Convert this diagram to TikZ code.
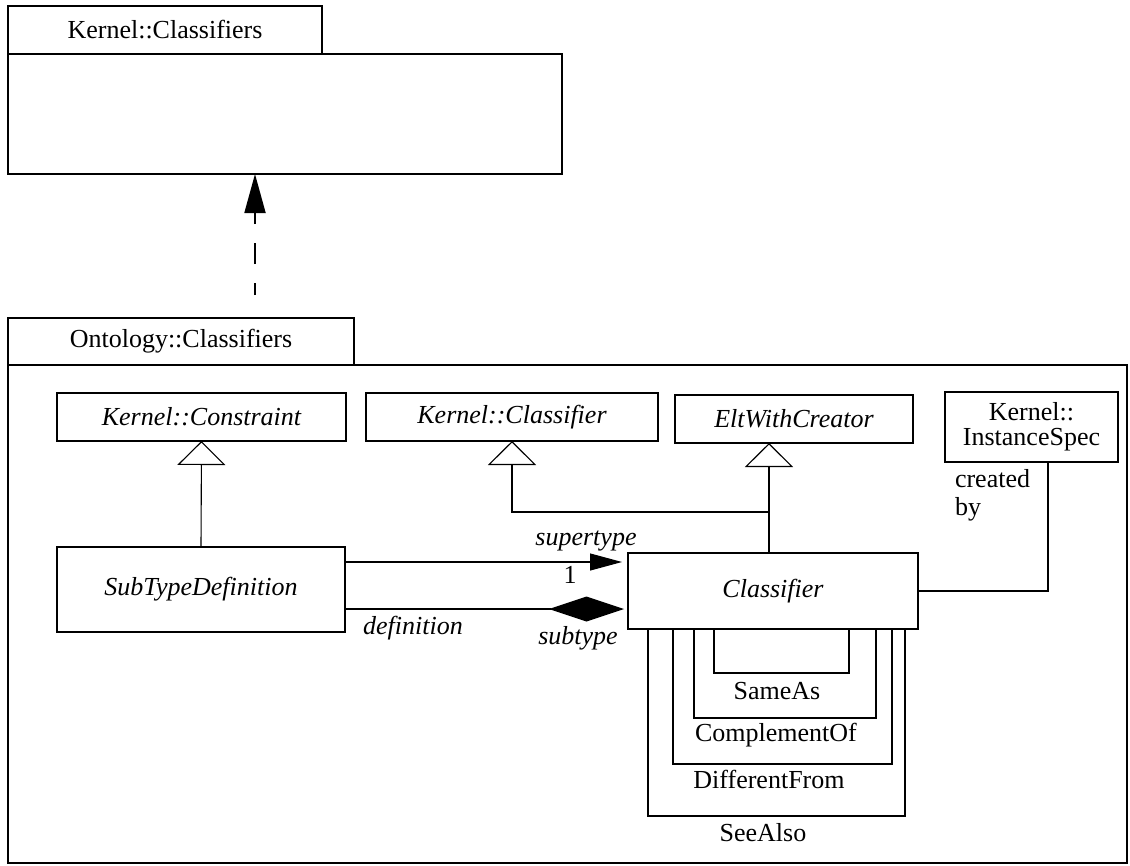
\documentclass[tikz,border=0pt]{standalone}
\usepackage{fontspec}
\setmainfont{Liberation Serif}
\usetikzlibrary{arrows.meta,calc}
\begin{document}
\begin{tikzpicture}[x=1pt,y=-1pt,
  every node/.style={inner sep=0pt, outer sep=0pt, font=\fontsize{26}{26}\selectfont},
  frame/.style={draw, line width=1.1pt, anchor=north west},
  cbox/.style={frame, font=\fontsize{26}{26}\selectfont\itshape},
  lbl/.style={font=\fontsize{26}{26}\selectfont},
  ilbl/.style={font=\fontsize{26}{26}\selectfont\itshape},
  link/.style={line width=1.1pt},
  gen/.style={link, -{Triangle[open,length=24pt,width=48pt,fill=white]}},
  depend/.style={line width=1.8pt, dash pattern=on 21pt off 19pt, dash phase=9pt,
                 -{Triangle[length=39pt,width=21pt]}},
  nav/.style={link, -{Triangle[length=32pt,width=17pt]}, shorten >=6pt},
  compose/.style={link, -{Diamond[length=75pt,width=25pt]}, shorten >=4pt}
]
\useasboundingbox (0,0) rectangle (1130,865);

% package Kernel::Classifiers
\node[frame, minimum width=314pt, minimum height=48pt] (ktab) at (8,6) {Kernel::Classifiers};
\node[frame, minimum width=554pt, minimum height=120pt] (kbody) at (8,54) {};

% package Ontology::Classifiers
\node[frame, minimum width=346pt, minimum height=47pt] (otab) at (8,318) {Ontology::Classifiers};
\node[frame, minimum width=1119pt, minimum height=498pt] (obody) at (8,365) {};

% dependency between the packages
\coordinate (dtail) at (255,295);
\draw[depend] (dtail) -- (dtail |- kbody.south);

% classes
\node[cbox, minimum width=289pt, minimum height=48pt] (kcons) at (57,393) {Kernel::Constraint};
\node[cbox, minimum width=292pt, minimum height=48pt] (kcls) at (366,393) {Kernel::Classifier};
\node[cbox, minimum width=238pt, minimum height=48pt] (elt) at (675,395) {EltWithCreator};
\node[frame, minimum width=173pt, minimum height=70pt, align=center,
      font=\fontsize{26}{25}\selectfont] (ispec) at (945,392) {Kernel::\\InstanceSpec};
\node[cbox, minimum width=288pt, minimum height=85pt] (sub) at (57,547) {SubTypeDefinition};
\node[cbox, minimum width=290pt, minimum height=76pt] (cls) at (628,553) {Classifier};

% generalizations
\draw[gen] (sub.north) -- (kcons.south);
\coordinate (eg) at ([xshift=-25pt]elt.south);
\draw[gen] (eg |- cls.north) -- (eg);
\path (eg) ++(0,69) coordinate (j);
\draw[gen] (j) -| (kcls.south);

% associations between SubTypeDefinition and Classifier
\coordinate (sup) at ([yshift=27.5pt]sub.east);
\draw[nav] (sup) -- (sup -| cls.west);
\coordinate (def) at ([yshift=-19.5pt]sub.east);
\draw[compose] (def) -- (def -| cls.west);
\node[ilbl] (lsup) at (586,541) {supertype};
\node[lbl] (lone) at (570,575) {1};
\node[ilbl] (ldef) at (413,628) {definition};
\node[ilbl] (lsubt) at (578,638) {subtype};

% created by
\draw[link] (cls.east) -| ([xshift=16.5pt]ispec.south);
\node[lbl, align=left, anchor=west, font=\fontsize{26}{28}\selectfont] (lcb) at (955,495) {created\\by};

% self associations of Classifier
\draw[link] ([xshift=20pt]cls.south west) -- ++(0,187) -| ([xshift=277pt]cls.south west);
\draw[link] ([xshift=45pt]cls.south west) -- ++(0,135) -| ([xshift=264pt]cls.south west);
\draw[link] ([xshift=66pt]cls.south west) -- ++(0,89) -| ([xshift=248pt]cls.south west);
\draw[link] ([xshift=86pt]cls.south west) -- ++(0,44) -| ([xshift=221pt]cls.south west);
\node[lbl] (lsame) at (777,691) {SameAs};
\node[lbl] (lcompl) at (776,735) {ComplementOf};
\node[lbl] (ldiff) at (769,779) {DifferentFrom};
\node[lbl] (lsee) at (763,833) {SeeAlso};
\end{tikzpicture}
\end{document}
